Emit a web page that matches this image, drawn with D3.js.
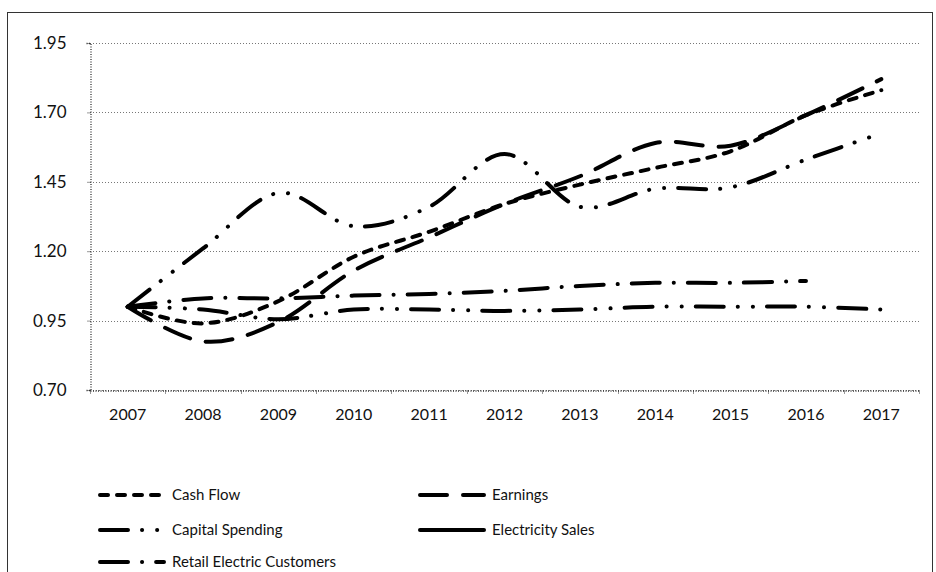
<!DOCTYPE html>
<html>
<head>
<meta charset="utf-8">
<script src="https://cdn.jsdelivr.net/npm/d3@7"></script>
<style>
  body { margin: 0; background: #fff; }
  text { font-family: Lato, "Liberation Sans", sans-serif; fill: #111; }
</style>
</head>
<body>
<div id="chart"></div>
<script>
// values (indexed, 2007 = 1.00)
var years = ["2007","2008","2009","2010","2011","2012","2013","2014","2015","2016","2017"];
var cashFlow         = [1.00, 0.94, 1.02, 1.18, 1.27, 1.37, 1.44, 1.50, 1.56, 1.69, 1.78];
var earnings         = [1.00, 0.875, 0.945, 1.13, 1.25, 1.37, 1.47, 1.59, 1.58, 1.69, 1.82];
var capitalSpending  = [1.00, 1.21, 1.41, 1.29, 1.36, 1.55, 1.36, 1.425, 1.43, 1.53, 1.625];
var electricitySales = [1.00, 0.99, 0.955, 0.99, 0.99, 0.985, 0.99, 1.00, 1.00, 1.00, 0.99];
var retailCustomers  = [1.00, 1.03, 1.03, 1.04, 1.046, 1.057, 1.075, 1.086, 1.086, 1.093, null];
var yTicks = [0.70, 0.95, 1.20, 1.45, 1.70, 1.95];

var series = [
  {name: "Cash Flow", values: cashFlow, dash: "8,9", legendDash: "8,9"},
  {name: "Earnings", values: earnings, dash: "27,16", legendDash: "27,16"},
  {name: "Capital Spending", values: capitalSpending, dash: "28,14,0.1,15,0.1,14", legendDash: "28,14,0.1,15,0.1,14"},
  {name: "Electricity Sales", values: electricitySales, dash: "28,14,0.1,15,0.1,14", legendDash: null},
  {name: "Retail Electric Customers", values: retailCustomers, dash: "28,14,0.1,14", legendDash: "28,14,0.1,14"}
];

function drawChart() {
  var W = 936, H = 572;
  var svg = d3.select("#chart").append("svg")
    .attr("width", W).attr("height", H);

  // outer chart border (bottom runs off the picture)
  svg.append("rect")
    .attr("x", 7.5).attr("y", 12.5)
    .attr("width", 925).attr("height", 620)
    .attr("fill", "none").attr("stroke", "#333").attr("stroke-width", 1);

  var pLeft = 90, pRight = 919, pTop = 43, pBottom = 390;

  var x = d3.scaleBand().domain(years).range([pLeft, pRight]).padding(0);
  var y = d3.scaleLinear().domain([0.70, 1.95]).range([pBottom, pTop]);

  // gridlines
  svg.append("g").selectAll("line")
    .data(yTicks)
    .enter().append("line")
    .attr("x1", pLeft).attr("x2", pRight)
    .attr("y1", function(d) { return Math.round(y(d)) + 0.5; })
    .attr("y2", function(d) { return Math.round(y(d)) + 0.5; })
    .attr("stroke", "#777").attr("stroke-width", 1)
    .attr("stroke-dasharray", "1,2");

  // y axis
  var yAxis = svg.append("g")
    .attr("transform", "translate(" + (pLeft + 0.5) + ",0)")
    .call(d3.axisLeft(y).tickValues(yTicks).tickFormat(d3.format(".2f")).tickSize(4).tickPadding(20));
  yAxis.select(".domain").attr("stroke", "#333").attr("stroke-dasharray", "1,1.5").attr("stroke-width", 1.3);
  yAxis.selectAll(".tick line").attr("stroke", "#333").attr("stroke-dasharray", "1,1");
  yAxis.selectAll("text").attr("font-size", 17).attr("fill", "#111")
    .attr("font-family", "Lato, 'Liberation Sans', sans-serif");

  // x axis: ticks at category boundaries, labels centred
  var xAxis = svg.append("g")
    .attr("transform", "translate(0," + (Math.round(y(0.70)) + 0.5) + ")")
    .call(d3.axisBottom(x).tickSize(0).tickPadding(18));
  xAxis.select(".domain").attr("stroke", "#333").attr("stroke-dasharray", "1,1.5").attr("stroke-width", 1.3);
  xAxis.selectAll("text").attr("font-size", 16).attr("fill", "#111")
    .attr("font-family", "Lato, 'Liberation Sans', sans-serif");
  xAxis.selectAll(".bound")
    .data(d3.range(years.length + 1))
    .enter().append("line")
    .attr("class", "bound")
    .attr("x1", function(i) { return Math.round(pLeft + i * x.bandwidth()) + 0.5; })
    .attr("x2", function(i) { return Math.round(pLeft + i * x.bandwidth()) + 0.5; })
    .attr("y1", 0).attr("y2", 4)
    .attr("stroke", "#333").attr("stroke-dasharray", "1,1");

  // smoothed lines, like the spreadsheet's
  var line = d3.line()
    .x(function(d) { return x(d.year) + x.bandwidth() / 2; })
    .y(function(d) { return y(d.v); })
    .curve(d3.curveCardinal.tension(0));

  svg.append("g").selectAll("path")
    .data(series)
    .enter().append("path")
    .attr("d", function(s) {
      var pts = years.map(function(yr, i) { return {year: yr, v: s.values[i]}; })
        .filter(function(p) { return p.v != null; });
      return line(pts);
    })
    .attr("fill", "none")
    .attr("stroke", "#000")
    .attr("stroke-width", 4)
    .attr("stroke-linecap", "round")
    .attr("stroke-linejoin", "round")
    .attr("stroke-dasharray", function(s) { return s.dash; });

  // legend
  var legendPos = [
    {x: 98, y: 495}, {x: 418, y: 495},
    {x: 98, y: 530}, {x: 418, y: 530},
    {x: 98, y: 562}
  ];
  var lg = svg.append("g").selectAll("g")
    .data(series)
    .enter().append("g")
    .attr("transform", function(s, i) { return "translate(" + legendPos[i].x + "," + legendPos[i].y + ")"; });

  lg.append("line")
    .attr("x1", 2).attr("x2", 66)
    .attr("y1", 0).attr("y2", 0)
    .attr("stroke", "#000").attr("stroke-width", 4)
    .attr("stroke-linecap", "round")
    .attr("stroke-dasharray", function(s) { return s.legendDash; });

  lg.append("text")
    .attr("x", 74).attr("y", 0).attr("dy", "0.35em")
    .attr("font-size", 15)
    .text(function(s) { return s.name; });
}

drawChart();
</script>
</body>
</html>
